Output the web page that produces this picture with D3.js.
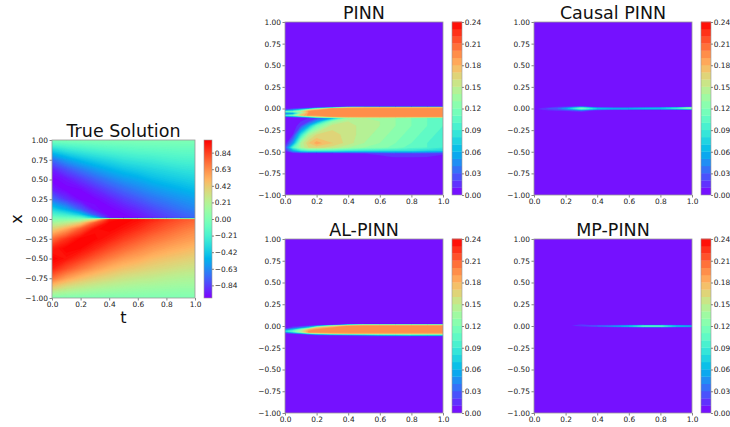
<!DOCTYPE html>
<html>
<head>
<meta charset="utf-8">
<script src="https://cdn.jsdelivr.net/npm/d3@7"></script>
<style>
  body { margin: 0; background: #fff; }
  svg { display: block; font-family: "DejaVu Sans", sans-serif; }
</style>
</head>
<body>
<svg id="fig" width="730" height="427"></svg>
<script>
// ---- data ----
// true solution u(t, x): columns are trueT, rows are trueX (top to bottom)
const trueT = [0, 0.1, 0.2, 0.3, 0.4, 0.5, 0.6, 0.7, 0.8, 0.9, 1];
const trueX = [1, 0.875, 0.75, 0.625, 0.5, 0.375, 0.25, 0.125, 0.05, 0.01, 0,
  -0.01, -0.05, -0.125, -0.25, -0.375, -0.5, -0.625, -0.75, -0.875, -1];
const trueU = [
  [0, 0, 0, 0, 0, 0, 0, 0, 0, 0, 0],
  [-0.38, -0.29, -0.24, -0.20, -0.17, -0.15, -0.13, -0.12, -0.11, -0.10, -0.10],
  [-0.71, -0.57, -0.47, -0.40, -0.35, -0.30, -0.27, -0.25, -0.22, -0.20, -0.19],
  [-0.92, -0.80, -0.69, -0.59, -0.51, -0.45, -0.41, -0.37, -0.34, -0.31, -0.29],
  [-1.00, -0.95, -0.86, -0.76, -0.67, -0.59, -0.54, -0.48, -0.44, -0.41, -0.38],
  [-0.92, -1.00, -0.98, -0.90, -0.81, -0.73, -0.66, -0.60, -0.55, -0.51, -0.47],
  [-0.71, -0.87, -0.99, -0.99, -0.93, -0.85, -0.78, -0.71, -0.66, -0.61, -0.57],
  [-0.38, -0.54, -0.77, -0.97, -1.00, -0.95, -0.89, -0.82, -0.76, -0.70, -0.65],
  [-0.16, -0.23, -0.39, -0.77, -0.99, -0.99, -0.94, -0.87, -0.81, -0.76, -0.71],
  [-0.03, -0.05, -0.08, -0.38, -0.94, -1.00, -0.97, -0.91, -0.85, -0.79, -0.74],
  [0, 0, 0, 0, 0, 0, 0, 0, 0, 0, 0],
  [0.03, 0.05, 0.08, 0.38, 0.94, 1.00, 0.97, 0.91, 0.85, 0.79, 0.74],
  [0.16, 0.23, 0.39, 0.77, 0.99, 0.99, 0.94, 0.87, 0.81, 0.76, 0.71],
  [0.38, 0.54, 0.77, 0.97, 1.00, 0.95, 0.89, 0.82, 0.76, 0.70, 0.65],
  [0.71, 0.87, 0.99, 0.99, 0.93, 0.85, 0.78, 0.71, 0.66, 0.61, 0.57],
  [0.92, 1.00, 0.98, 0.90, 0.81, 0.73, 0.66, 0.60, 0.55, 0.51, 0.47],
  [1.00, 0.95, 0.86, 0.76, 0.67, 0.59, 0.54, 0.48, 0.44, 0.41, 0.38],
  [0.92, 0.80, 0.69, 0.59, 0.51, 0.45, 0.41, 0.37, 0.34, 0.31, 0.29],
  [0.71, 0.57, 0.47, 0.40, 0.35, 0.30, 0.27, 0.25, 0.22, 0.20, 0.19],
  [0.38, 0.29, 0.24, 0.20, 0.17, 0.15, 0.13, 0.12, 0.11, 0.10, 0.10],
  [0, 0, 0, 0, 0, 0, 0, 0, 0, 0, 0]
];

// absolute error maps, columns are errT
const errT = [0, 0.05, 0.1, 0.15, 0.2, 0.3, 0.4, 0.5, 0.6, 0.7, 0.8, 0.9, 1];

const pinnX = [1, 0.02, 0.01, 0, -0.02, -0.035, -0.05, -0.065, -0.08, -0.095,
  -0.11, -0.15, -0.2, -0.3, -0.4, -0.45, -0.49, -0.52, -0.56, -0.58, -1];
const pinnErr = [
  [0, 0, 0, 0, 0, 0, 0, 0, 0, 0, 0, 0, 0],
  [0, 0, 0, 0, 0, 0, 0, 0, 0, 0, 0, 0, 0],
  [0, 0, 0, 0, 0.005, 0.05, 0.17, 0.18, 0.18, 0.18, 0.18, 0.18, 0.18],
  [0.005, 0.01, 0.02, 0.04, 0.10, 0.19, 0.195, 0.195, 0.195, 0.195, 0.195, 0.195, 0.195],
  [0.03, 0.06, 0.10, 0.17, 0.195, 0.195, 0.195, 0.195, 0.195, 0.195, 0.195, 0.195, 0.195],
  [0.11, 0.12, 0.15, 0.195, 0.195, 0.195, 0.195, 0.195, 0.195, 0.195, 0.195, 0.195, 0.195],
  [0.05, 0.06, 0.12, 0.19, 0.195, 0.195, 0.195, 0.195, 0.195, 0.195, 0.195, 0.195, 0.195],
  [0.03, 0.06, 0.16, 0.195, 0.195, 0.195, 0.195, 0.195, 0.195, 0.195, 0.195, 0.195, 0.195],
  [0.10, 0.12, 0.17, 0.195, 0.195, 0.195, 0.195, 0.195, 0.195, 0.195, 0.195, 0.195, 0.195],
  [0.02, 0.03, 0.05, 0.09, 0.15, 0.19, 0.19, 0.19, 0.19, 0.19, 0.19, 0.19, 0.19],
  [0, 0, 0.005, 0.01, 0.02, 0.06, 0.13, 0.14, 0.135, 0.13, 0.12, 0.11, 0.10],
  [0, 0, 0.01, 0.02, 0.05, 0.13, 0.15, 0.145, 0.14, 0.13, 0.12, 0.11, 0.10],
  [0, 0, 0.02, 0.06, 0.11, 0.155, 0.155, 0.145, 0.14, 0.13, 0.12, 0.11, 0.10],
  [0, 0.01, 0.08, 0.14, 0.16, 0.165, 0.155, 0.145, 0.135, 0.125, 0.115, 0.105, 0.095],
  [0, 0.05, 0.14, 0.17, 0.185, 0.17, 0.155, 0.14, 0.13, 0.12, 0.11, 0.10, 0.09],
  [0.02, 0.10, 0.14, 0.16, 0.165, 0.155, 0.14, 0.13, 0.125, 0.115, 0.105, 0.10, 0.09],
  [0.01, 0.05, 0.08, 0.09, 0.09, 0.09, 0.085, 0.08, 0.08, 0.08, 0.08, 0.075, 0.07],
  [0, 0, 0, 0, 0, 0, 0.005, 0.01, 0.015, 0.02, 0.02, 0.02, 0.015],
  [0, 0, 0, 0, 0, 0, 0, 0, 0.005, 0.012, 0.013, 0.01, 0],
  [0, 0, 0, 0, 0, 0, 0, 0, 0, 0, 0, 0, 0],
  [0, 0, 0, 0, 0, 0, 0, 0, 0, 0, 0, 0, 0]
];

const causalX = [1, 0.05, 0.03, 0.015, 0.005, -0.005, -0.015, -0.03, -0.05, -1];
const causalErr = [
  [0, 0, 0, 0, 0, 0, 0, 0, 0, 0, 0, 0, 0],
  [0, 0, 0, 0, 0, 0, 0, 0, 0, 0, 0, 0, 0],
  [0, 0, 0, 0, 0, 0.01, 0, 0, 0, 0, 0, 0, 0],
  [0, 0.005, 0.01, 0.015, 0.02, 0.05, 0.01, 0.005, 0.005, 0.005, 0.008, 0.01, 0.03],
  [0.005, 0.01, 0.02, 0.03, 0.05, 0.12, 0.06, 0.05, 0.05, 0.06, 0.07, 0.10, 0.15],
  [0.005, 0.015, 0.025, 0.03, 0.05, 0.11, 0.07, 0.06, 0.06, 0.06, 0.06, 0.07, 0.09],
  [0, 0.01, 0.015, 0.02, 0.03, 0.06, 0.02, 0.01, 0.005, 0.005, 0.005, 0.005, 0.01],
  [0, 0, 0.005, 0.01, 0.01, 0.02, 0, 0, 0, 0, 0, 0, 0],
  [0, 0, 0, 0, 0, 0, 0, 0, 0, 0, 0, 0, 0],
  [0, 0, 0, 0, 0, 0, 0, 0, 0, 0, 0, 0, 0]
];

const alX = [1, 0.02, 0.01, 0, -0.02, -0.04, -0.06, -0.075, -0.085, -0.1, -0.12, -1];
const alErr = [
  [0, 0, 0, 0, 0, 0, 0, 0, 0, 0, 0, 0, 0],
  [0, 0, 0, 0, 0, 0, 0, 0, 0, 0, 0, 0, 0],
  [0, 0, 0, 0, 0, 0.02, 0.12, 0.17, 0.17, 0.17, 0.17, 0.17, 0.17],
  [0, 0.005, 0.01, 0.02, 0.05, 0.15, 0.195, 0.195, 0.195, 0.195, 0.195, 0.195, 0.195],
  [0.005, 0.02, 0.04, 0.08, 0.17, 0.195, 0.195, 0.195, 0.195, 0.195, 0.195, 0.195, 0.195],
  [0.03, 0.07, 0.12, 0.18, 0.195, 0.195, 0.195, 0.195, 0.195, 0.195, 0.195, 0.195, 0.195],
  [0.08, 0.11, 0.15, 0.195, 0.195, 0.195, 0.195, 0.195, 0.195, 0.195, 0.195, 0.195, 0.195],
  [0.03, 0.07, 0.12, 0.19, 0.195, 0.195, 0.195, 0.195, 0.195, 0.195, 0.195, 0.195, 0.195],
  [0.01, 0.02, 0.04, 0.08, 0.13, 0.17, 0.18, 0.18, 0.18, 0.18, 0.18, 0.18, 0.18],
  [0, 0, 0, 0.01, 0.02, 0.03, 0.04, 0.06, 0.08, 0.09, 0.1, 0.1, 0.1],
  [0, 0, 0, 0, 0, 0, 0, 0, 0, 0, 0, 0, 0],
  [0, 0, 0, 0, 0, 0, 0, 0, 0, 0, 0, 0, 0]
];

const mpX = [1, 0.04, 0.025, 0.012, 0.004, -0.004, -0.012, -0.025, -1];
const mpErr = [
  [0, 0, 0, 0, 0, 0, 0, 0, 0, 0, 0, 0, 0],
  [0, 0, 0, 0, 0, 0, 0, 0, 0, 0, 0, 0, 0],
  [0, 0, 0, 0, 0, 0.008, 0, 0, 0, 0, 0, 0, 0],
  [0, 0, 0, 0, 0, 0.015, 0.005, 0.005, 0.006, 0.008, 0.008, 0.006, 0.005],
  [0, 0, 0, 0, 0.003, 0.02, 0.03, 0.04, 0.06, 0.09, 0.09, 0.06, 0.05],
  [0, 0, 0, 0, 0, 0.012, 0.03, 0.05, 0.07, 0.11, 0.11, 0.07, 0.06],
  [0, 0, 0, 0, 0, 0.005, 0.01, 0.012, 0.02, 0.03, 0.03, 0.02, 0.015],
  [0, 0, 0, 0, 0, 0, 0, 0, 0, 0, 0, 0, 0],
  [0, 0, 0, 0, 0, 0, 0, 0, 0, 0, 0, 0, 0]
];

// tick labels
const xAxisTicks = [-1, -0.75, -0.5, -0.25, 0, 0.25, 0.5, 0.75, 1];
const tAxisTicks = [0, 0.2, 0.4, 0.6, 0.8, 1];
const trueBarTicks = [-0.84, -0.63, -0.42, -0.21, 0, 0.21, 0.42, 0.63, 0.84];
const errBarTicks = [0, 0.03, 0.06, 0.09, 0.12, 0.15, 0.18, 0.21, 0.24];

// contour levels
const errLevels = d3.range(25).map(i => i / 100);          // 0.00 .. 0.24
const trueLevels = d3.range(101).map(i => -1 + i * 0.02);  // -1 .. 1

// matplotlib "rainbow" colormap
function rainbow(v) {
  v = Math.max(0, Math.min(1, v));
  const r = Math.min(1, Math.abs(2 * v - 0.5));
  const g = Math.sin(Math.PI * v);
  const b = Math.cos(Math.PI * v / 2);
  return d3.rgb(r * 255, g * 255, b * 255).formatHex();
}

const svg = d3.select("#fig");
const fmt2 = d3.format(".2f");
const fmt1 = d3.format(".1f");
let clipId = 0;

function styleAxis(g, size) {
  g.attr("font-size", size || 7.4).attr("font-family", "DejaVu Sans, sans-serif");
  g.select(".domain").remove();
  g.selectAll(".tick line").attr("stroke", "#333").attr("stroke-width", 0.6);
  g.selectAll(".tick text").attr("fill", "#222");
}

// filled contour field; grid cell centres are mapped to the (possibly uneven) data grid
function drawField(box, tVals, xVals, z, levels, fillOf, bg) {
  const nx = tVals.length, ny = xVals.length;
  const colToT = d3.scaleLinear()
    .domain([0, ...d3.range(nx).map(i => i + 0.5), nx])
    .range([tVals[0], ...tVals, tVals[nx - 1]]);
  const rowToX = d3.scaleLinear()
    .domain([0, ...d3.range(ny).map(i => i + 0.5), ny])
    .range([xVals[0], ...xVals, xVals[ny - 1]]);
  const x = d3.scaleLinear().domain([0, 1]).range([box.left, box.left + box.width]);
  const y = d3.scaleLinear().domain([-1, 1]).range([box.top + box.height, box.top]);

  const proj = d3.geoTransform({
    point(px, py) { this.stream.point(x(colToT(px)), y(rowToX(py))); }
  });
  const path = d3.geoPath(proj);

  const id = "clip" + (clipId++);
  svg.append("clipPath").attr("id", id).append("rect")
    .attr("x", box.left).attr("y", box.top)
    .attr("width", box.width).attr("height", box.height);

  const g = svg.append("g").attr("clip-path", `url(#${id})`);
  g.append("rect")
    .attr("x", box.left).attr("y", box.top)
    .attr("width", box.width).attr("height", box.height)
    .attr("fill", bg);

  const bands = d3.contours().size([nx, ny]).thresholds(levels)(z.flat());
  g.selectAll("path").data(bands).join("path")
    .attr("d", path)
    .attr("fill", d => fillOf(d.value))
    .attr("stroke", d => fillOf(d.value))
    .attr("stroke-width", 0.15);

  // axes
  const ax = svg.append("g")
    .attr("transform", `translate(0,${box.top + box.height})`)
    .call(d3.axisBottom(x).tickValues(tAxisTicks).tickFormat(fmt1).tickSize(2.5).tickPadding(1.5));
  styleAxis(ax);
  const ay = svg.append("g")
    .attr("transform", `translate(${box.left},0)`)
    .call(d3.axisLeft(y).tickValues(xAxisTicks).tickFormat(fmt2).tickSize(2.5).tickPadding(1.5));
  styleAxis(ay);

  svg.append("rect")
    .attr("x", box.left).attr("y", box.top)
    .attr("width", box.width).attr("height", box.height)
    .attr("fill", "none").attr("stroke", "#999").attr("stroke-width", 0.8);

  svg.append("text")
    .attr("x", box.left + box.width / 2).attr("y", box.top - 3.5)
    .attr("text-anchor", "middle")
    .attr("font-size", 17.5).attr("fill", "#111")
    .text(box.title);
}

function drawErrBar(box) {
  const left = box.left + 167, w = 10;
  const cy = d3.scaleLinear().domain([0, 0.24]).range([box.top + box.height, box.top]);
  svg.append("g").selectAll("rect").data(errLevels.slice(0, -1)).join("rect")
    .attr("x", left).attr("width", w)
    .attr("y", d => cy(d + 0.01) - 0.3)
    .attr("height", d => cy(d) - cy(d + 0.01) + 0.3)
    .attr("fill", (d, i) => rainbow((i + 0.5) / 24));
  svg.append("rect")
    .attr("x", left).attr("y", box.top).attr("width", w).attr("height", box.height)
    .attr("fill", "none").attr("stroke", "#999").attr("stroke-width", 0.6);
  const a = svg.append("g")
    .attr("transform", `translate(${left + w},0)`)
    .call(d3.axisRight(cy).tickValues(errBarTicks).tickFormat(fmt2).tickSize(2).tickPadding(0.8));
  styleAxis(a);
}

// ---- True Solution ----
const trueBox = { title: "True Solution", left: 52, top: 140, width: 143, height: 158 };
drawField(trueBox, trueT, trueX, trueU, trueLevels.slice(1, -1),
  v => rainbow((v + 0.01 + 1) / 2), rainbow(0.005));

// continuous colour bar
const tbLeft = 204, tbW = 8;
const grad = svg.append("defs").append("linearGradient")
  .attr("id", "trueGrad").attr("x1", 0).attr("y1", 1).attr("x2", 0).attr("y2", 0);
grad.selectAll("stop").data(d3.range(41)).join("stop")
  .attr("offset", d => d / 40)
  .attr("stop-color", d => rainbow(d / 40));
svg.append("rect")
  .attr("x", tbLeft).attr("y", trueBox.top).attr("width", tbW).attr("height", trueBox.height)
  .attr("fill", "url(#trueGrad)").attr("stroke", "#999").attr("stroke-width", 0.6);
const tcy = d3.scaleLinear().domain([-1, 1]).range([trueBox.top + trueBox.height, trueBox.top]);
styleAxis(svg.append("g")
  .attr("transform", `translate(${tbLeft + tbW},0)`)
  .call(d3.axisRight(tcy).tickValues(trueBarTicks).tickFormat(fmt2).tickSize(2).tickPadding(0.8)));

svg.append("text")
  .attr("transform", "translate(22,219) rotate(-90)")
  .attr("text-anchor", "middle")
  .attr("font-size", 16).attr("fill", "#111")
  .text("x");
svg.append("text")
  .attr("x", trueBox.left + trueBox.width / 2).attr("y", 323)
  .attr("text-anchor", "middle")
  .attr("font-size", 16).attr("fill", "#111")
  .text("t");

// ---- error maps ----
const errBoxes = [
  { title: "PINN", left: 285, top: 22, width: 158, height: 173, x: pinnX, z: pinnErr },
  { title: "Causal PINN", left: 534, top: 22, width: 158, height: 173, x: causalX, z: causalErr },
  { title: "AL-PINN", left: 285, top: 239, width: 158, height: 174, x: alX, z: alErr },
  { title: "MP-PINN", left: 534, top: 239, width: 158, height: 174, x: mpX, z: mpErr }
];
errBoxes.forEach(b => {
  drawField(b, errT, b.x, b.z, errLevels.slice(1, -1),
    v => rainbow((Math.round(v * 100) + 0.5) / 24), rainbow(0.5 / 24));
  drawErrBar(b);
});
</script>
</body>
</html>
